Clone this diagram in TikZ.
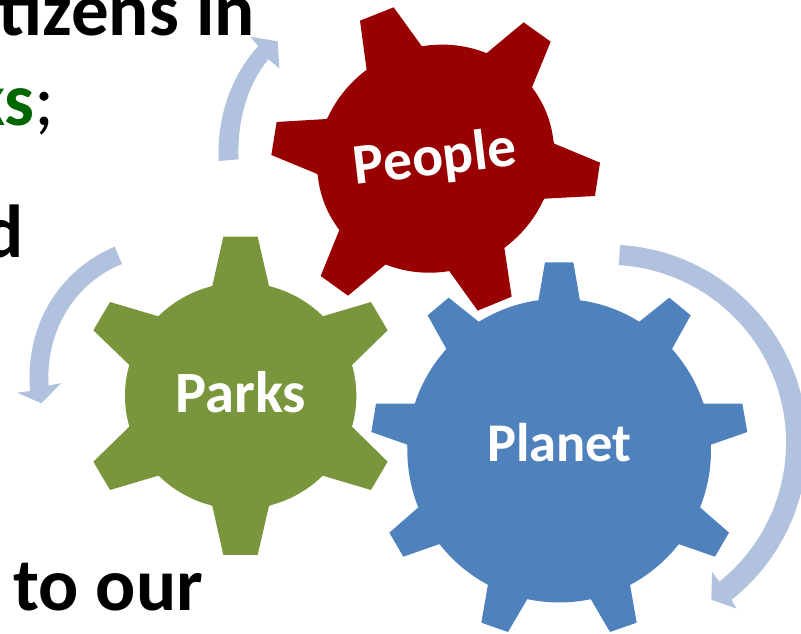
\documentclass[tikz,border=0pt]{standalone}
\usepackage{fontspec}
\setmainfont{Carlito}
\definecolor{gearred}{HTML}{990000}
\definecolor{gearblue}{HTML}{4F81BD}
\definecolor{geargreen}{HTML}{7A963D}
\definecolor{cyclearrow}{HTML}{B0C2DD}
\definecolor{wordgreen}{HTML}{006600}
\tikzset{
  gearlabel/.style={text=white,font=\fontsize{#1}{60}\selectfont\bfseries,anchor=base,inner sep=0pt},
  bodytext/.style={text=black,font=\fontsize{75}{80}\selectfont\bfseries,inner sep=0pt},
  zoomA/.style={x=0.33333pt,y=-0.33333pt,shift={(210pt,0pt)}},
  zoomB/.style={x=0.33333pt,y=-0.33333pt,shift={(360pt,-240pt)}},
  zoomC/.style={x=0.33333pt,y=-0.33333pt,shift={(0pt,-220pt)}},
  zoomD/.style={x=0.33333pt,y=-0.33333pt}
}
\begin{document}
\begin{tikzpicture}[x=1pt,y=-1pt]
\useasboundingbox (0,0) rectangle (801,634);
\clip (0,0) rectangle (801,634);
% text behind
\node[bodytext,anchor=base east] (t1) at (255,36) {tizens in};
\node[bodytext,anchor=base east] (t2) at (55,125) {\textcolor{wordgreen}{ks}\textmd{;}};
\node[bodytext,anchor=base east] (t3) at (24,257) {d};
\node[bodytext,anchor=base west] (t4) at (13,610) {to our};
% arrows
\begin{scope}[zoomD]
\fill[cyclearrow] (656,483) .. controls (650,340) and (700,220) .. (775,138)
  -- (750,110) -- (833,124) -- (838,205) -- (805,178)
  .. controls (745,250) and (710,360) .. (716,478) -- cycle;
\end{scope}
\begin{scope}[zoomC]
\fill[cyclearrow] (344,80) .. controls (180,150) and (75,310) .. (90,513)
  -- (52,518) -- (124,550) -- (184,489) -- (146,497)
  .. controls (135,340) and (220,190) .. (366,132) -- cycle;
\end{scope}
\begin{scope}[zoomB]
\fill[cyclearrow] (780,15) arc[start angle=86.6,end angle=-51.7,radius=199pt]
  -- (1130,1106) -- (1054,1079) -- (1056,995) -- (1078,1025)
  arc[start angle=-51.3,end angle=86.5,radius=178pt] -- cycle;
\end{scope}
% people gear
\begin{scope}[zoomA]
\fill[gearred] (677,476) circle[x radius=120pt,y radius=112.3pt,rotate=28];
\fill[gearred] (450,62) -- (551,22) -- (637,141) -- (828,161) -- (941,67) -- (1022,125) -- (966,262)
  -- (1033,431) -- (1170,488) -- (1155,588) -- (1003,596) -- (883,743) -- (905,890) -- (803,932)
  -- (717,812) -- (527,793) -- (414,887) -- (332,828) -- (388,690) -- (322,522) -- (184,465)
  -- (200,366) -- (350,357) -- (470,210) -- cycle;
\end{scope}
% parks gear
\begin{scope}[zoomC]
\fill[geargreen] (722,527.5) circle[x radius=115.7pt,y radius=113.2pt];
\fill[geargreen] (670,50) -- (773,50) -- (807,198) -- (968,289) -- (1113,246) -- (1163,331) -- (1056,435)
  -- (1056,620) -- (1163,725) -- (1113,810) -- (968,767) -- (807,858) -- (773,1005) -- (670,1005)
  -- (637,858) -- (475,767) -- (330,810) -- (280,725) -- (388,620) -- (388,435) -- (280,331)
  -- (330,246) -- (475,289) -- (637,198) -- cycle;
\end{scope}
% planet gear
\begin{scope}[zoomB]
\fill[gearblue] (597.5,632) circle[radius=151.8pt];
\fill[gearblue] (555,67) -- (640,67) -- (660,182) -- (838,245) -- (928,173) -- (992,226) -- (936,327)
  -- (1030,491) -- (1147,491) -- (1162,576) -- (1053,614) -- (1020,802) -- (1107,878) -- (1065,950)
  -- (955,912) -- (810,1033) -- (830,1148) -- (750,1176) -- (692,1077) -- (502,1077) -- (444,1176)
  -- (364,1148) -- (384,1033) -- (239,912) -- (130,950) -- (88,878) -- (175,802) -- (142,614)
  -- (34,576) -- (48,491) -- (165,491) -- (259,327) -- (203,226) -- (266,173) -- (356,245) -- (535,182) -- cycle;
\end{scope}
% labels
\node[gearlabel=57.5,rotate=6.8] (people) at (437,175) {People};
\node[gearlabel=58.5] (parks) at (241,412.7) {Parks};
\node[gearlabel=54.5] (planet) at (559.5,461.7) {Planet};
\end{tikzpicture}
\end{document}
